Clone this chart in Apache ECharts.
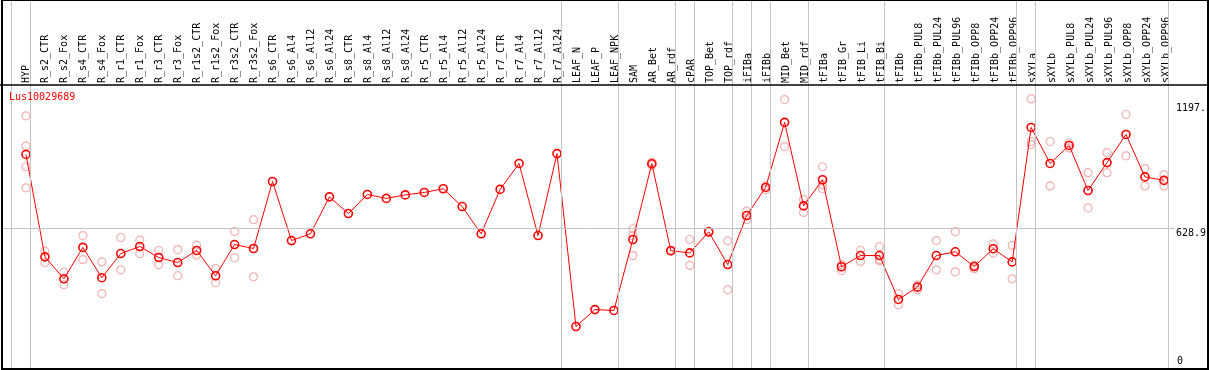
<!DOCTYPE html>
<html><head><meta charset="utf-8">
<script src="https://cdn.jsdelivr.net/npm/echarts@6/dist/echarts.min.js"></script>
<style>html,body{margin:0;padding:0;background:#fff}#c{width:1209px;height:370px}</style>
</head><body><div id="c"></div>
<script>
const geneId = 'Lus10029689';
const categories = ['HYP','R_s2_CTR','R_s2_Fox','R_s4_CTR','R_s4_Fox','R_r1_CTR','R_r1_Fox','R_r3_CTR','R_r3_Fox','R_r1s2_CTR','R_r1s2_Fox','R_r3s2_CTR','R_r3s2_Fox','R_s6_CTR','R_s6_Al4','R_s6_Al12','R_s6_Al24','R_s8_CTR','R_s8_Al4','R_s8_Al12','R_s8_Al24','R_r5_CTR','R_r5_Al4','R_r5_Al12','R_r5_Al24','R_r7_CTR','R_r7_Al4','R_r7_Al12','R_r7_Al24','LEAF_N','LEAF_P','LEAF_NPK','SAM','AR_Bet','AR_rdf','cPAR','TOP_Bet','TOP_rdf','iFIBa','iFIBb','MID_Bet','MID_rdf','tFIBa','tFIB_Gr','tFIB_Li','tFIB_Bi','tFIBb','tFIBb_PUL8','tFIBb_PUL24','tFIBb_PUL96','tFIBb_OPP8','tFIBb_OPP24','tFIBb_OPP96','sXYLa','sXYLb','sXYLb_PUL8','sXYLb_PUL24','sXYLb_PUL96','sXYLb_OPP8','sXYLb_OPP24','sXYLb_OPP96'];
const means = [966,500,400,543,405,515,547,497,474,529,414,556,538,843,574,605,773,697,784,766,782,793,810,729,605,807,925,597,970,183,260,256,579,924,528,518,614,465,688,816,1112,732,851,455,506,506,306,362,506,523,456,537,477,1089,925,1007,802,929,1057,864,848];
const replicates = [[1142,1005,910,814],[526,474],[430,373],[597,487],[477,333],[588,441],[576,514],[529,465],[533,414],[553,508],[447,382],[615,496],[669,409],
  [],[],[],[],[],[],[],[],[],[],[],[],[],[],[],[],[],[],[],
  [628,597,506],[931,916],[531,525],[579,461],[617,611],[573,350],[708,669],[823,805],[1216,1002],[761,702],[910,829,810],[465,438],[530,479],[547,488,482],
  [332,282],[371,350],[574,441],[615,432],[462,446],[559,517],[552,400],
  [1219,1025,1011],[1025,823],[1017,996],[883,723],[974,883],[1148,960],[902,823],[873,822]];
const groupSizes = [1,28,3,3,1,2,1,1,2,4,7,1,7];
const refValue = 628.9;
const yTickValues = [1197, 628.9, 0];
const yTickLabels = ['1197.', '628.9', '0'];

const FONT = 'DejaVu Sans Mono';
const meanData = means.map((v, i) => [i, v]);
const repData = [];
replicates.forEach((arr, i) => arr.forEach(v => repData.push([i, v])));
const bounds = [0];
groupSizes.forEach(s => bounds.push(bounds[bounds.length - 1] + s));
const bandOffset = 14.5 / 19;
const labelOf = v => yTickLabels[yTickValues.indexOf(v)];

const chart = echarts.init(document.getElementById('c'), null, {renderer: 'canvas'});
chart.setOption({
  animation: false,
  backgroundColor: '#fff',
  title: {text: geneId, left: 9, top: 92, padding: 0,
    textStyle: {color: '#ff0000', fontSize: 10, fontWeight: 'normal', fontFamily: FONT}},
  grid: [
    {left: 2, right: 32, top: 0, bottom: 1},
    {left: 16.5, width: 1159, top: 85, height: 1}
  ],
  xAxis: [
    {type: 'value', gridIndex: 0, min: -24 / 19, max: 1151 / 19, show: false},
    {type: 'category', gridIndex: 1, position: 'top', data: categories, boundaryGap: true,
      axisLine: {show: false}, axisTick: {show: false},
      axisLabel: {interval: 0, rotate: 90, margin: 2, fontSize: 10, fontFamily: FONT, color: '#000'}}
  ],
  yAxis: [
    {type: 'value', gridIndex: 0, position: 'right', min: -10.47, max: 1669.1,
      axisLine: {show: false}, axisTick: {show: false}, splitLine: {show: false},
      axisLabel: {customValues: yTickValues.slice(0, 2), formatter: labelOf, verticalAlign: 'top',
        margin: 1, fontSize: 10, fontFamily: FONT, color: '#000'}},
    {type: 'value', gridIndex: 0, position: 'right', min: -10.47, max: 1669.1,
      axisLine: {show: false}, axisTick: {show: false}, splitLine: {show: false},
      axisLabel: {customValues: yTickValues.slice(2), formatter: labelOf, verticalAlign: 'bottom',
        margin: 2, fontSize: 10, fontFamily: FONT, color: '#000'}},
    {type: 'value', gridIndex: 1, show: false}
  ],
  series: [
    {type: 'scatter', xAxisIndex: 0, yAxisIndex: 0, data: repData, symbol: 'circle', symbolSize: 8,
      itemStyle: {color: 'rgba(255,255,255,0)', borderColor: '#f19c9c', borderWidth: 1.2},
      z: 2, silent: true,
      markLine: {silent: true, symbol: 'none', label: {show: false},
        lineStyle: {color: '#c4c4c4', width: 1, type: 'solid'},
        data: bounds.map(k => ({xAxis: k - bandOffset})).concat([{yAxis: refValue}])}},
    {type: 'line', xAxisIndex: 0, yAxisIndex: 0, data: meanData, symbol: 'circle', symbolSize: 8,
      showSymbol: true, itemStyle: {color: 'rgba(255,255,255,0)', borderColor: '#ff0000', borderWidth: 1.6},
      lineStyle: {color: '#ff0000', width: 1}, z: 3, silent: true}
  ],
  graphic: [
    {type: 'rect', shape: {x: 2, y: 0, width: 1206, height: 369}, style: {fill: 'none', stroke: '#000', lineWidth: 2}, z: 10, silent: true},
    {type: 'line', shape: {x1: 0, y1: 85, x2: 1209, y2: 85}, style: {stroke: '#000', lineWidth: 1.5}, z: 10, silent: true}
  ]
});
</script></body></html>
